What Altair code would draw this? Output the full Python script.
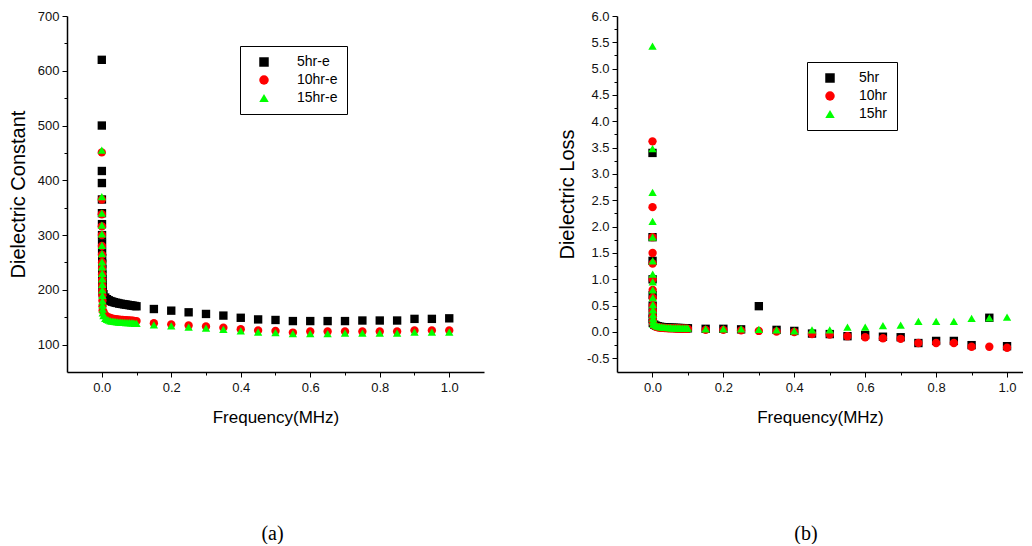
import altair as alt
import pandas as pd

# ---------------- data ----------------
A_SERIES = ["5hr-e", "10hr-e", "15hr-e"]
B_SERIES = ["5hr", "10hr", "15hr"]
COLORS = ["#000000", "#ff0000", "#00ff00"]
SHAPES = ["square", "circle", "triangle-up"]

# frequencies (MHz)
STACK_X = [0.0001, 0.0002, 0.0003, 0.0004, 0.0005, 0.0006, 0.0007, 0.0008, 0.0009, 0.0010,
           0.0012, 0.0014, 0.0016, 0.0018, 0.0020, 0.0022, 0.0025, 0.0028, 0.0030]
DENSE_X = [0.005, 0.010, 0.015, 0.020, 0.025, 0.030, 0.035, 0.040, 0.045, 0.050,
           0.055, 0.060, 0.065, 0.070, 0.075, 0.080, 0.085, 0.090, 0.095, 0.100]
SPARSE_X = [0.15, 0.20, 0.25, 0.30, 0.35, 0.40, 0.45, 0.50, 0.55, 0.60,
            0.65, 0.70, 0.75, 0.80, 0.85, 0.90, 0.95, 1.00]

# (a) dielectric constant
A5_STACK = [620, 500, 417, 395, 365, 340, 320, 300, 285, 270, 258, 248, 238, 228, 220, 212, 205, 198, 193]
A10_STACK = [451, 365, 338, 316, 300, 280, 264, 250, 240, 228, 218, 208, 198, 190, 180, 170, 162]
A15_STACK = [455, 370, 340, 318, 302, 281, 266, 251, 242, 230, 220, 210, 200, 190, 180, 172, 165, 158]
A5_DENSE = [192, 186, 183, 181, 179.5, 178.5, 177.5, 176.5, 176, 175,
            174.5, 174, 173.5, 173, 172.5, 172, 171.5, 171, 170.5, 170]
A10_DENSE = [160, 154, 151, 149.5, 148.5, 147.5, 147, 146.5, 146, 145.5,
             145, 145, 144.5, 144.5, 144, 144, 143.5, 143.5, 143, 143]
A15_DENSE = [153, 148, 146, 144.5, 143.5, 143, 142.5, 142, 141.5, 141,
             141, 140.5, 140.5, 140, 140, 140, 139.5, 139.5, 139, 139]
A5_SPARSE = [165, 162, 159, 156, 153, 149, 146, 145, 143, 143, 143, 143, 144, 144, 144, 147, 147, 148]
A10_SPARSE = [139, 137, 135, 133, 131, 128, 126, 125, 122, 124, 124, 124, 124, 124, 124, 126, 126, 126]
A15_SPARSE = [136, 134, 132, 130, 128, 125, 123, 122, 120, 120, 120, 121, 121, 121, 121, 123, 123, 123]

# (b) dielectric loss
B5_STACK = [3.40, 1.80, 1.35, 1.00, 0.70, 0.50, 0.35, 0.25, 0.17]
B10_STACK = [3.62, 2.37, 1.80, 1.50, 1.30, 1.00, 0.80, 0.65, 0.50, 0.40, 0.30, 0.22, 0.16]
B15_STACK = [5.43, 3.48, 2.65, 2.10, 1.80, 1.35, 1.10, 0.95, 0.80, 0.65, 0.52, 0.42, 0.33, 0.26, 0.20, 0.15]
B5_DENSE = [0.14, 0.12, 0.11, 0.10, 0.095, 0.09, 0.088, 0.085, 0.083, 0.08,
            0.079, 0.078, 0.077, 0.076, 0.075, 0.074, 0.073, 0.072, 0.071, 0.07]
B10_DENSE = [0.12, 0.10, 0.09, 0.085, 0.08, 0.078, 0.075, 0.073, 0.071, 0.07,
             0.069, 0.068, 0.067, 0.066, 0.065, 0.064, 0.063, 0.062, 0.061, 0.06]
B15_DENSE = [0.15, 0.12, 0.11, 0.10, 0.095, 0.09, 0.087, 0.085, 0.083, 0.081,
             0.08, 0.079, 0.078, 0.077, 0.076, 0.075, 0.074, 0.073, 0.072, 0.071]
B5_SPARSE = [0.06, 0.06, 0.05, 0.49, 0.04, 0.02, -0.03, -0.04, -0.08, -0.06,
             -0.09, -0.10, -0.21, -0.17, -0.17, -0.25, 0.27, -0.27]
B10_SPARSE = [0.04, 0.04, 0.03, 0.02, 0.01, 0.00, -0.04, -0.05, -0.08, -0.10,
              -0.12, -0.13, -0.21, -0.21, -0.21, -0.28, -0.28, -0.30]
B15_SPARSE = [0.06, 0.06, 0.06, 0.05, 0.04, 0.02, 0.04, 0.04, 0.09, 0.09,
              0.12, 0.13, 0.20, 0.20, 0.20, 0.26, 0.27, 0.28]

# axis ticks
X_TICKS = [0.0, 0.1, 0.2, 0.3, 0.4, 0.5, 0.6, 0.7, 0.8, 0.9, 1.0]
A_Y_TICKS = [100, 150, 200, 250, 300, 350, 400, 450, 500, 550, 600, 650, 700]
B_Y_TICKS = [-0.5, -0.25, 0.0, 0.25, 0.5, 0.75, 1.0, 1.25, 1.5, 1.75, 2.0, 2.25, 2.5, 2.75,
             3.0, 3.25, 3.5, 3.75, 4.0, 4.25, 4.5, 4.75, 5.0, 5.25, 5.5, 5.75, 6.0]


def build(series, stacks, denses, sparses):
    rows = []
    k = 0
    for name, st, de, sp in zip(series, stacks, denses, sparses):
        xs = STACK_X[:len(st)] + DENSE_X + SPARSE_X
        ys = list(st) + list(de) + list(sp)
        for x, y in zip(xs, ys):
            rows.append({"x": x, "y": y, "series": name, "ord": k})
            k += 1
    return pd.DataFrame(rows)


df_a = build(A_SERIES, [A5_STACK, A10_STACK, A15_STACK], [A5_DENSE, A10_DENSE, A15_DENSE],
             [A5_SPARSE, A10_SPARSE, A15_SPARSE])
df_b = build(B_SERIES, [B5_STACK, B10_STACK, B15_STACK], [B5_DENSE, B10_DENSE, B15_DENSE],
             [B5_SPARSE, B10_SPARSE, B15_SPARSE])

FONT = "Liberation Sans"
X_MAJOR = "abs(round(datum.value*5) - datum.value*5) < 1e-6"
AXIS_STYLE = dict(
    grid=False, domainColor="black", domainWidth=1.5, tickColor="black", tickWidth=1,
    labelFont=FONT, labelFontSize=13, labelColor="#111111", titleFont=FONT,
    titleColor="black", titleFontWeight="normal",
)


def panel(df, series, xdom, ydom, yticks, ymajor, yfmt, ytitle, width, legx, legy,
          symoff, laboff, label, dx):
    legend = alt.Legend(
        orient="none", legendX=legx, legendY=legy, title=None,
        strokeColor="black", fillColor="white", padding=9,
        symbolOffset=symoff, labelOffset=laboff, symbolSize=90,
        labelFont=FONT, labelFontSize=14, labelColor="black", rowPadding=4,
        symbolStrokeWidth=0,
    )
    xaxis = alt.Axis(
        values=X_TICKS, format=".1f",
        labelExpr=X_MAJOR + " ? datum.label : ''",
        tickSize={"condition": {"test": X_MAJOR, "value": 5}, "value": 3},
        title="Frequency(MHz)", titleFontSize=17, titlePadding=15,
        labelPadding=4, labelFlush=False, labelOverlap=False, **AXIS_STYLE,
    )
    yaxis = alt.Axis(
        values=yticks, format=yfmt,
        labelExpr=ymajor + " ? replace(datum.label, '\u2212', '-') : ''",
        tickSize={"condition": {"test": ymajor, "value": 5}, "value": 3},
        title=ytitle, titleFontSize=20, titlePadding=9,
        labelPadding=3, labelOverlap=False, **AXIS_STYLE,
    )
    return alt.Chart(df).mark_point(filled=True, size=70, opacity=1).encode(
        x=alt.X("x:Q", scale=alt.Scale(domain=xdom, nice=False, zero=False), axis=xaxis),
        y=alt.Y("y:Q", scale=alt.Scale(domain=ydom, nice=False, zero=False), axis=yaxis),
        color=alt.Color("series:N", scale=alt.Scale(domain=series, range=COLORS), legend=legend),
        shape=alt.Shape("series:N", scale=alt.Scale(domain=series, range=SHAPES), legend=legend),
        order=alt.Order("ord:Q"),
    ).properties(
        width=width, height=356,
        title=alt.TitleParams(label, orient="bottom", font="Liberation Serif", fontSize=20,
                              fontWeight="normal", color="black", offset=99, frame="group",
                              anchor="middle", dx=dx),
    )


left = panel(df_a, A_SERIES, [-0.1, 1.1], [50, 700], A_Y_TICKS, "datum.value % 100 === 0", "d",
             "Dielectric Constant", 417, 173, 30, 8, 26, "(a)", -3)
right = panel(df_b, B_SERIES, [-0.1, 1.045], [-0.76, 6.0], B_Y_TICKS,
              "abs(round(datum.value*2) - datum.value*2) < 1e-6", ".1f",
              "Dielectric Loss", 406, 190, 46, 7, 22, "(b)", -14)

chart = alt.hconcat(left, right, spacing=73).resolve_scale(
    color="independent", shape="independent"
).properties(
    padding={"left": 0, "top": 2, "right": 0, "bottom": 0},
    background="white",
).configure_view(stroke=None).configure_axis(**AXIS_STYLE)

chart.save("out.html", embed_options={"renderer": "svg", "actions": False})
